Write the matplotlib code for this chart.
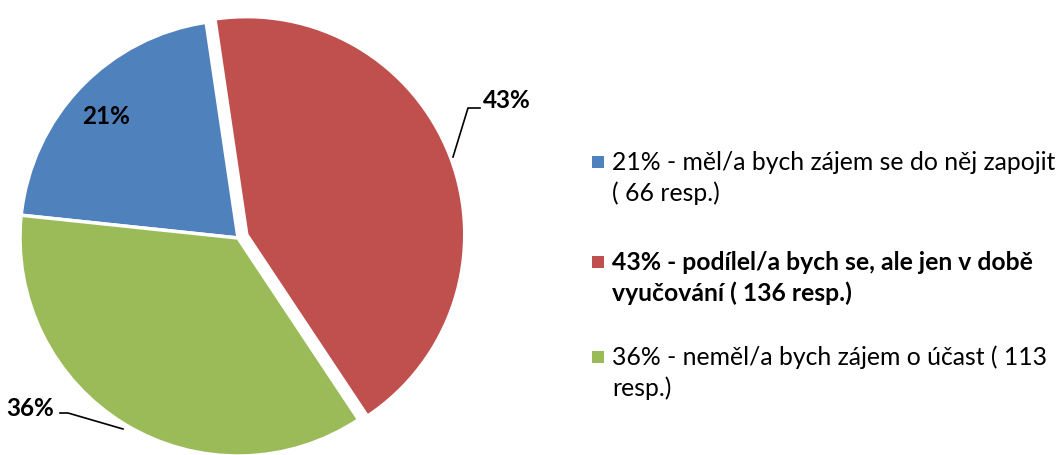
import numpy as np
import matplotlib
matplotlib.use("Agg")
import matplotlib.pyplot as plt
from matplotlib.patches import Rectangle

plt.rcParams['font.family'] = ['Lato', 'DejaVu Sans']

# Data
shares = [21, 43, 36]
pct_labels = ["21%", "43%", "36%"]
legend_labels = [
    "21% - měl/a bych zájem se do něj zapojit\n( 66 resp.)",
    "43% - podílel/a bych se, ale jen v době\nvyučování ( 136 resp.)",
    "36% - neměl/a bych zájem o účast ( 113\nresp.)",
]
colors = ["#4F81BD", "#C0504D", "#9BBB59"]
explode = [0, 0.043, 0]

W, H = 1056, 455
fig = plt.figure(figsize=(W / 100, H / 100), dpi=100)

# pie axes: centre at (238, 238) px, radius 218 px
r_px = 218
cx_px, cy_px = 238, 238
lim = 1.2
side = 2 * lim * r_px
ax = fig.add_axes([(cx_px - side / 2) / W, (H - cy_px - side / 2) / H, side / W, side / H])


def px(x, y):
    # pixel position (from top-left) -> pie data coords
    return (x - cx_px) / r_px, (cy_px - y) / r_px


wedges, _ = ax.pie(shares, colors=colors, explode=explode, startangle=174,
                   counterclock=False,
                   wedgeprops=dict(edgecolor="white", linewidth=2.5))
ax.set_xlim(-lim, lim)
ax.set_ylim(-lim, lim)
ax.set_aspect("equal")
ax.axis("off")

# percentage labels
ax.text(*px(106, 117), pct_labels[0], ha="center", va="center",
        fontsize=17.5, fontweight="bold")

l43 = [px(453, 157), px(468, 108), px(480, 108)]
ax.plot([p[0] for p in l43], [p[1] for p in l43], color="black", lw=1.2)
ax.text(*px(483, 101), pct_labels[1], ha="left", va="center",
        fontsize=17.5, fontweight="bold")

l36 = [px(123, 429), px(68, 413), px(60, 413)]
ax.plot([p[0] for p in l36], [p[1] for p in l36], color="black", lw=1.2)
ax.text(*px(54, 408), pct_labels[2], ha="right", va="center",
        fontsize=17.5, fontweight="bold")

# legend drawn by hand
first_line_y = [162, 262, 357]
line_gap = 31
for i, lab in enumerate(legend_labels):
    y0 = first_line_y[i]
    fig.patches.append(Rectangle((592 / W, 1 - (y0 + 6) / H), 12 / W, 12 / H,
                                 transform=fig.transFigure,
                                 facecolor=colors[i], edgecolor="none"))
    for j, line in enumerate(lab.split("\n")):
        fig.text(612 / W, 1 - (y0 + j * line_gap) / H, line,
                 ha="left", va="center", fontsize=17.8,
                 fontweight="bold" if i == 1 else "normal")

fig.savefig("out.png", dpi=100)
